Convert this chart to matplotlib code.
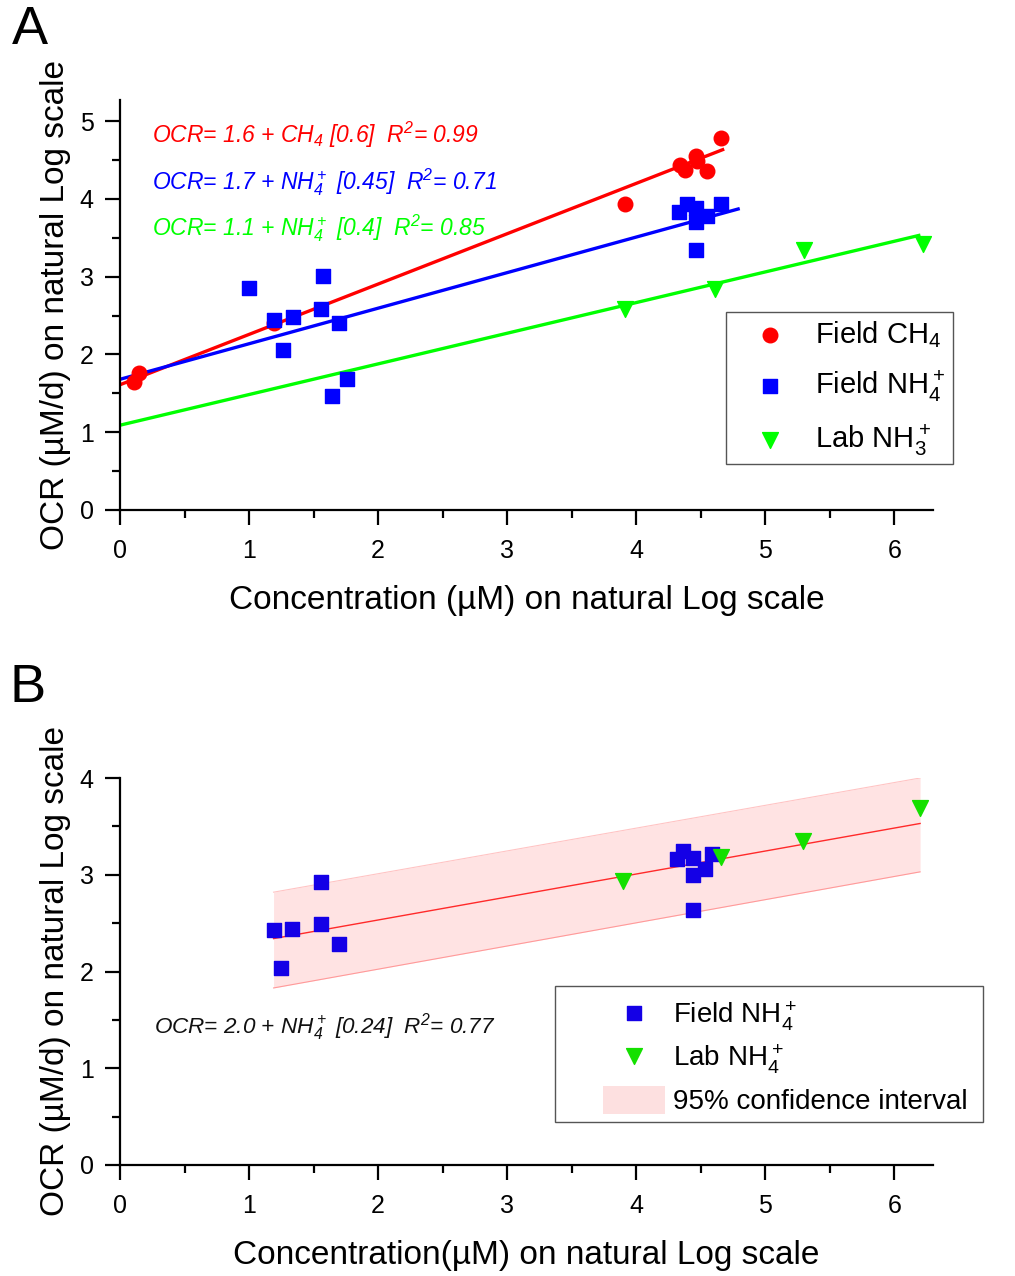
import numpy as np
import matplotlib
matplotlib.use("Agg")
import matplotlib.pyplot as plt
from matplotlib.ticker import MultipleLocator
from matplotlib.patches import Patch, Rectangle

plt.rcParams["font.family"] = ["Liberation Sans", "DejaVu Sans"]
plt.rcParams["mathtext.default"] = "regular"

W, H = 1015, 1276

# ---- panel A data (natural log scale) ----
ch4_x = [0.11, 0.15, 1.19, 3.91, 4.34, 4.38, 4.46, 4.47, 4.55, 4.66]
ch4_y = [1.65, 1.76, 2.40, 3.93, 4.44, 4.37, 4.55, 4.49, 4.36, 4.78]

nh4_x = [1.00, 1.19, 1.34, 1.26, 1.57, 1.56, 1.70, 1.76, 1.64,
         4.33, 4.39, 4.46, 4.46, 4.55, 4.66, 4.46]
nh4_y = [2.85, 2.44, 2.48, 2.06, 3.01, 2.58, 2.40, 1.68, 1.47,
         3.83, 3.93, 3.88, 3.70, 3.78, 3.93, 3.34]

lab_x = [3.91, 4.61, 5.30, 6.22]
lab_y = [2.58, 2.84, 3.34, 3.42]

# fit lines: intercept, slope, x range
fit_ch4 = (1.61, 0.647, 0.0, 4.67)
fit_nh4 = (1.68, 0.457, 0.0, 4.79)
fit_lab = (1.09, 0.394, 0.0, 6.19)

# ---- panel B data ----
b_field_x = [1.19, 1.33, 1.56, 1.56, 1.70, 1.25,
             4.32, 4.36, 4.44, 4.44, 4.53, 4.59, 4.44]
b_field_y = [2.43, 2.44, 2.93, 2.49, 2.28, 2.04,
             3.16, 3.25, 3.17, 3.00, 3.06, 3.21, 2.64]
b_lab_x = [3.90, 4.66, 5.29, 6.20]
b_lab_y = [2.94, 3.18, 3.35, 3.69]

b_fit_x = [1.19, 6.20]
b_fit_y = [2.34, 3.53]
b_ci_upper = [2.82, 4.00]
b_ci_lower = [1.83, 3.03]


def style_axes(ax, ymax):
    ax.set_xlim(0, 6.3)
    ax.set_ylim(0, ymax)
    for s in ["top", "right"]:
        ax.spines[s].set_visible(False)
    for s in ["left", "bottom"]:
        ax.spines[s].set_linewidth(1.6)
    ax.xaxis.set_major_locator(MultipleLocator(1))
    ax.xaxis.set_minor_locator(MultipleLocator(0.5))
    ax.yaxis.set_major_locator(MultipleLocator(1))
    ax.yaxis.set_minor_locator(MultipleLocator(0.5))
    ax.tick_params(which="major", direction="out", length=11, width=1.6,
                   labelsize=18)
    ax.tick_params(which="minor", direction="out", length=6, width=1.6)
    ax.tick_params(axis="x", which="major", pad=10)
    ax.tick_params(axis="y", which="major", pad=8)


def frame_box(x0, y0, x1, y1):
    # legend frame in pixel coords of the figure
    fig.patches.append(Rectangle((x0 / W, 1 - y1 / H), (x1 - x0) / W, (y1 - y0) / H,
                                 transform=fig.transFigure, fill=False,
                                 edgecolor="#555555", lw=1.0))


fig = plt.figure(figsize=(W / 100, H / 100), dpi=100)

# ---------------- panel A ----------------
axA = fig.add_axes([120 / W, 1 - 510 / H, 813 / W, 410 / H])
style_axes(axA, 5.27)

for fit, c in [(fit_ch4, "#ff0000"), (fit_nh4, "#0000ff"), (fit_lab, "#00ff00")]:
    a, b, x0, x1 = fit
    xs = np.array([x0, x1])
    axA.plot(xs, a + b * xs, color=c, lw=2.4, zorder=2)

axA.scatter(ch4_x, ch4_y, s=110, marker="o", color="#ff0000", zorder=3,
            label="Field CH$_4$")
axA.scatter(nh4_x, nh4_y, s=95, marker="s", color="#0000ff", zorder=3,
            label="Field NH$_4^+$")
axA.scatter(lab_x, lab_y, s=130, marker="v", color="#00ff00", zorder=3,
            label="Lab NH$_3^+$")

axA.text(0.25, 4.82, "OCR= 1.6 + CH$_4$ [0.6]  R$^2$= 0.99", color="#ff0000",
         style="italic", fontsize=16.5, va="center")
axA.text(0.25, 4.22, "OCR= 1.7 + NH$_4^+$ [0.45]  R$^2$= 0.71", color="#0000ff",
         style="italic", fontsize=16.5, va="center")
axA.text(0.25, 3.62, "OCR= 1.1 + NH$_4^+$ [0.4]  R$^2$= 0.85", color="#00ff00",
         style="italic", fontsize=16.5, va="center")

frame_box(726, 312, 953, 464)
axA.legend(loc="upper left", bbox_to_anchor=(741 / W, 1 - 319 / H),
           bbox_transform=fig.transFigure, fontsize=21, frameon=False,
           handlelength=2.0, handletextpad=0.55, borderpad=0,
           labelspacing=0.62, borderaxespad=0)

axA.set_xlabel("Concentration (µM) on natural Log scale", fontsize=24, labelpad=16)
axA.set_ylabel("OCR (µM/d) on natural Log scale", fontsize=24, labelpad=6)
fig.text(12 / W, 1 - 30 / H, "A", fontsize=39, va="center", ha="left")

# ---------------- panel B ----------------
axB = fig.add_axes([120 / W, 1 - 1165 / H, 813 / W, 387 / H])
style_axes(axB, 4.0)

axB.fill_between(b_fit_x, b_ci_lower, b_ci_upper, color="#ffe3e3", lw=0, zorder=1)
axB.plot(b_fit_x, b_ci_upper, color="#ffc4c4", lw=0.8, zorder=1)
axB.plot(b_fit_x, b_ci_lower, color="#ff9a9a", lw=0.8, zorder=1)
axB.plot(b_fit_x, b_fit_y, color="#ff2a2a", lw=1.0, zorder=2)

axB.scatter(b_field_x, b_field_y, s=95, marker="s", color="#1400e6", zorder=3,
            label="Field NH$_4^+$")
axB.scatter(b_lab_x, b_lab_y, s=130, marker="v", color="#14e000", zorder=3,
            label="Lab NH$_4^+$")

axB.text(0.26, 1.43, "OCR= 2.0 + NH$_4^+$ [0.24]  R$^2$= 0.77", color="#111111",
         style="italic", fontsize=16.2, va="center")

handles, labels = axB.get_legend_handles_labels()
handles.append(Patch(facecolor="#fde0e0", edgecolor="none"))
labels.append("95% confidence interval")
frame_box(555, 986, 983, 1122)
axB.legend(handles, labels, loc="upper left",
           bbox_to_anchor=(603 / W, 1 - 1000 / H),
           bbox_transform=fig.transFigure, fontsize=20, frameon=False,
           handletextpad=0.3, handlelength=2.23, handleheight=1.2,
           borderpad=0, labelspacing=0.35, borderaxespad=0)

axB.set_xlabel("Concentration(µM) on natural Log scale", fontsize=24, labelpad=16)
axB.set_ylabel("OCR (µM/d) on natural Log scale", fontsize=24, labelpad=6)
fig.text(10 / W, 1 - 688 / H, "B", fontsize=39, va="center", ha="left")

fig.savefig("out.png", dpi=100)
